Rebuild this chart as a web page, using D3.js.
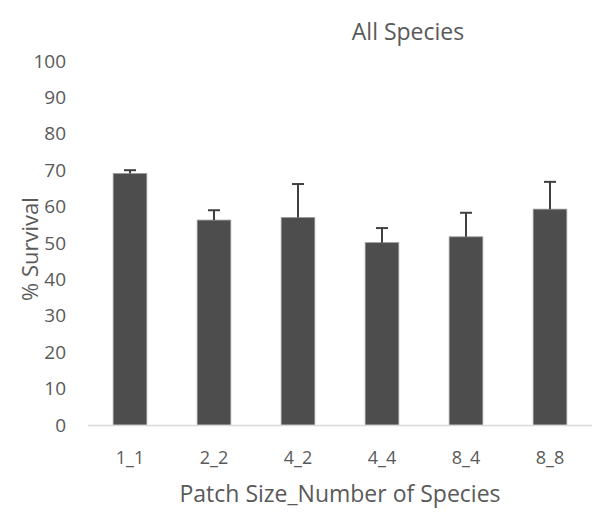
<!DOCTYPE html>
<html><head><meta charset="utf-8">
<script src="https://cdn.jsdelivr.net/npm/d3@7"></script>
<style>body{margin:0;background:#fff}svg{display:block}text{font-family:"Open Sans",Lato,sans-serif;fill:#595959}</style>
</head><body>
<svg id="c" width="600" height="522"></svg>
<script>
const categories = ["1_1","2_2","4_2","4_4","8_4","8_8"];
const survival = [69.1, 56.3, 57.0, 50.1, 51.7, 59.3];
const errUpper = [70.0, 59.0, 66.2, 54.1, 58.3, 66.8];
const yTicks = [0,10,20,30,40,50,60,70,80,90,100];

const svg = d3.select("#c");
const x = d3.scaleBand().domain(categories).range([88, 592]).paddingInner(0.6).paddingOuter(0.3);
const y = d3.scaleLinear().domain([0,100]).range([425, 61]);

svg.append("g").selectAll("text").data(yTicks).join("text")
  .attr("x", 66).attr("y", d => y(d)).attr("dy", "0.35em")
  .attr("text-anchor", "end").style("font-size", "19px").text(d => d);

svg.append("g").selectAll("rect").data(categories).join("rect")
  .attr("x", d => x(d)).attr("width", x.bandwidth())
  .attr("y", (d,i) => y(survival[i])).attr("height", (d,i) => y(0) - y(survival[i]))
  .attr("fill", "#4d4d4d").attr("stroke", "#9a9a9a").attr("stroke-width", 0.8);

const eg = svg.append("g").attr("stroke", "#404040").attr("stroke-width", 2);
categories.forEach((c,i) => {
  const cx = x(c) + x.bandwidth()/2;
  eg.append("line").attr("x1", cx).attr("x2", cx).attr("y1", y(survival[i])).attr("y2", y(errUpper[i]));
  eg.append("line").attr("x1", cx-6).attr("x2", cx+6).attr("y1", y(errUpper[i])).attr("y2", y(errUpper[i]));
});

svg.append("line").attr("x1", 88).attr("x2", 592).attr("y1", y(0)+0.5).attr("y2", y(0)+0.5)
  .attr("stroke", "#d9d9d9").attr("stroke-width", 1.5);

svg.append("g").selectAll("text").data(categories).join("text")
  .attr("x", d => x(d) + x.bandwidth()/2).attr("y", 458).attr("dy", "0.35em")
  .attr("text-anchor", "middle").style("font-size", "18px").text(d => d);

svg.append("text").attr("x", 408).attr("y", 32).attr("dy", "0.35em").attr("text-anchor", "middle")
  .style("font-size", "23px").text("All Species");
svg.append("text").attr("x", 340).attr("y", 494).attr("dy", "0.35em").attr("text-anchor", "middle")
  .style("font-size", "23px").text("Patch Size_Number of Species");
svg.append("text").attr("transform", "translate(30,249) rotate(-90)").attr("dy", "0.35em")
  .attr("text-anchor", "middle").style("font-size", "22px").text("% Survival");
</script>
</body></html>
